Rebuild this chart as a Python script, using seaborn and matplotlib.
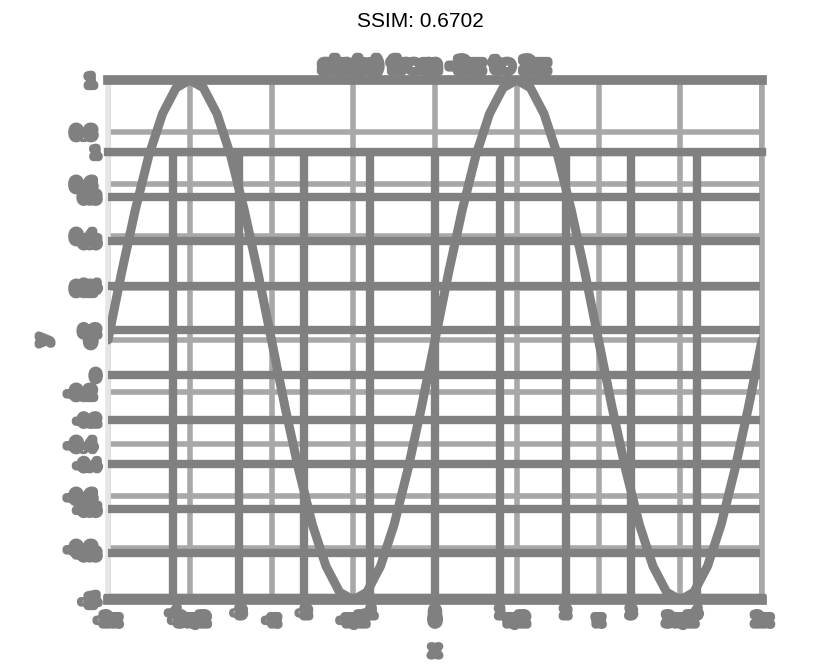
import numpy as np
import pandas as pd
import matplotlib
matplotlib.use("Agg")
import matplotlib.pyplot as plt
import matplotlib.patheffects as pe
import seaborn as sns

# ---- data ----
x_steps = list(range(-24, 25))  # in units of pi/12
quarter_up = [0, 0.26, 0.5, 0.71, 0.87, 0.97, 1, 0.97, 0.87, 0.71, 0.5, 0.26]
quarter_dn = [0, -0.26, -0.5, -0.71, -0.87, -0.97, -1, -0.97, -0.87, -0.71, -0.5, -0.26]
y_vals = [0, 0.26, 0.5, 0.71, 0.87, 0.97, 1, 0.97, 0.87, 0.71, 0.5, 0.26,
          0, -0.26, -0.5, -0.71, -0.87, -0.97, -1, -0.97, -0.87, -0.71, -0.5, -0.26,
          0, 0.26, 0.5, 0.71, 0.87, 0.97, 1, 0.97, 0.87, 0.71, 0.5, 0.26,
          0, -0.26, -0.5, -0.71, -0.87, -0.97, -1, -0.97, -0.87, -0.71, -0.5, -0.26, 0]
x_tick_labels = ["-2π", "-3π/2", "-π", "-π/2", "0", "π/2", "π", "3π/2", "2π"]
x2_tick_labels = ["-4", "-3", "-2", "-1", "0", "1", "2", "3", "4"]
y_tick_labels = ["-1", "-0.8", "-0.6", "-0.4", "-0.2", "0", "0.2", "0.4", "0.6", "0.8", "1"]
title_text = "sin(x) from -2π to 2π"
sup_text = "SSIM: 0.6702"

sns.set_style("white")
plt.rcParams['font.family'] = ['DejaVu Sans']

GRAY = "#808080"
LIGHT = "#a8a8a8"
blob = [pe.withStroke(linewidth=6, foreground=GRAY)]

df = pd.DataFrame({"x": np.array(x_steps) * np.pi / 12, "y": y_vals})

fig = plt.figure(figsize=(8.4, 6.64), dpi=100)
fig.text(0.5, 0.968, sup_text, ha="center", va="center", fontsize=15,
         color="black", family="Liberation Sans")

# axes 1
ax1 = fig.add_axes([108/840, 1-600/664, 654/840, 520/664])
ax1.set_xlim(-2*np.pi, 2*np.pi)
ax1.set_ylim(-1, 1)
ax1.set_xticks(np.arange(-4, 5) * np.pi / 2)
ax1.set_xticklabels(x_tick_labels)
ax1.set_yticks(np.linspace(-1, 1, 11))
ax1.set_yticklabels(y_tick_labels)
ax1.grid(True, color=LIGHT, lw=4)
sns.lineplot(data=df, x="x", y="y", ax=ax1, color=GRAY, lw=6.5, zorder=5)
ax1.set_xlabel("x", color=GRAY, fontsize=12, path_effects=blob, labelpad=10)
ax1.set_ylabel("y", color=GRAY, fontsize=12, path_effects=blob, labelpad=10)
ax1.set_title(title_text, color=GRAY, fontsize=14, fontweight="bold",
              path_effects=blob, pad=6)
for s in ["top", "bottom"]:
    ax1.spines[s].set_color(GRAY)
    ax1.spines[s].set_linewidth(7)
ax1.spines["left"].set_color("#e6e6e6")
ax1.spines["left"].set_linewidth(4)
ax1.spines["right"].set_color(LIGHT)
ax1.spines["right"].set_linewidth(4)
ax1.tick_params(colors=GRAY, labelsize=11, length=3, width=3, pad=6)
for t in ax1.get_xticklabels() + ax1.get_yticklabels():
    t.set_path_effects(blob)

# axes 2 (overlaid)
ax2 = fig.add_axes([108/840, 1-598/664, 654/840, 446/664])
ax2.patch.set_alpha(0)
ax2.set_xlim(-5, 5)
ax2.set_ylim(-1, 1)
ax2.set_xticks(np.arange(-4, 5))
ax2.set_xticklabels(x2_tick_labels)
ax2.set_yticks(np.linspace(-1, 1, 11))
ax2.set_yticklabels(y_tick_labels)
ax2.grid(True, color=GRAY, lw=6)
for s in ["top", "bottom"]:
    ax2.spines[s].set_color(GRAY)
    ax2.spines[s].set_linewidth(6)
ax2.spines["left"].set_visible(False)
ax2.spines["right"].set_color(LIGHT)
ax2.spines["right"].set_linewidth(3)
ax2.tick_params(colors=GRAY, labelsize=9, length=0, pad=6)
for t in ax2.get_xticklabels() + ax2.get_yticklabels():
    t.set_path_effects(blob)

fig.savefig("out.png", dpi=100)
